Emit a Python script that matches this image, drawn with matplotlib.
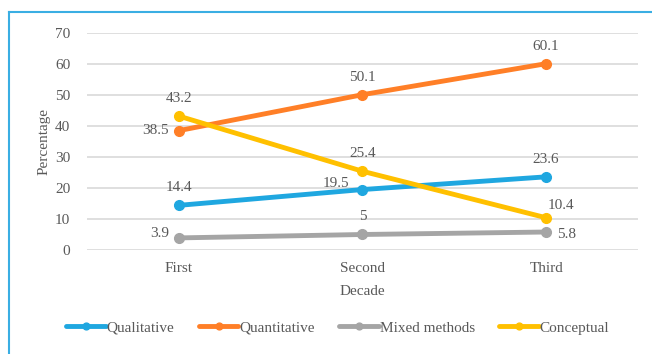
import matplotlib.pyplot as plt
from matplotlib.lines import Line2D

# data
decades = ['First', 'Second', 'Third']
qualitative = [14.4, 19.5, 23.6]
quantitative = [38.5, 50.1, 60.1]
mixed = [3.9, 5, 5.8]
conceptual = [43.2, 25.4, 10.4]

plt.rcParams['font.family'] = ['Liberation Serif', 'DejaVu Serif']
txt = '#595959'

fig = plt.figure(figsize=(6.52, 3.54), dpi=100)
ax = fig.add_axes([0.1334, 0.2938, 0.8451, 0.613])

x = range(len(decades))
series = [
    ('Qualitative', qualitative, '#1FA7E0'),
    ('Quantitative', quantitative, '#FF7F27'),
    ('Mixed methods', mixed, '#A5A5A5'),
    ('Conceptual', conceptual, '#FFC000'),
]
for name, vals, col in series:
    ax.plot(x, vals, color=col, lw=3.5, marker='o', ms=7, label=name, solid_capstyle='round')

# data labels: (dx, dy, va) offsets in points
offs = {
    'Qualitative': [(0, 8, 'bottom'), (-19, 4, 'center'), (0, 8, 'bottom')],
    'Quantitative': [(-17, 0, 'center'), (0, 8, 'bottom'), (0, 8, 'bottom')],
    'Mixed methods': [(-14, 3, 'center'), (0, 8, 'bottom'), (15, -2, 'center')],
    'Conceptual': [(0, 8, 'bottom'), (0, 8, 'bottom'), (11, 9, 'center')],
}
for name, vals, col in series:
    for i, v in enumerate(vals):
        dx, dy, va = offs[name][i]
        ax.annotate(f'{v:g}', (i, v), xytext=(dx, dy), textcoords='offset points',
                    ha='center', va=va, fontsize=11, color=txt)

ax.set_xlim(-0.5, 2.5)
ax.set_ylim(0, 70)
ax.set_yticks(range(0, 71, 10))
ax.set_xticks(list(x))
ax.set_xticklabels(decades)
ax.grid(axis='y', color='#D9D9D9', lw=1.2)
ax.set_axisbelow(True)
for s in ax.spines.values():
    s.set_visible(False)
ax.tick_params(length=0, labelsize=11, labelcolor=txt, pad=12)
ax.tick_params(axis='x', pad=9)
ax.set_xlabel('Decade', fontsize=11, color=txt, labelpad=7)
ax.set_ylabel('Percentage', fontsize=11, color=txt, labelpad=3.5)

fig.legend(loc='center', bbox_to_anchor=(0.518, 0.074), ncol=4, frameon=False,
           fontsize=11, labelcolor=txt, handlelength=2.6, handletextpad=0.05,
           columnspacing=1.6, markerscale=0.7)

# chart frame (only top and left visible in the crop)
bc = '#3AAEE3'
fig.add_artist(Line2D([9 / 652, 1], [1 - 12 / 354] * 2, color=bc, lw=1.5))
fig.add_artist(Line2D([9 / 652] * 2, [0, 1 - 12 / 354], color=bc, lw=1.5))

fig.savefig('out.png', dpi=100)
